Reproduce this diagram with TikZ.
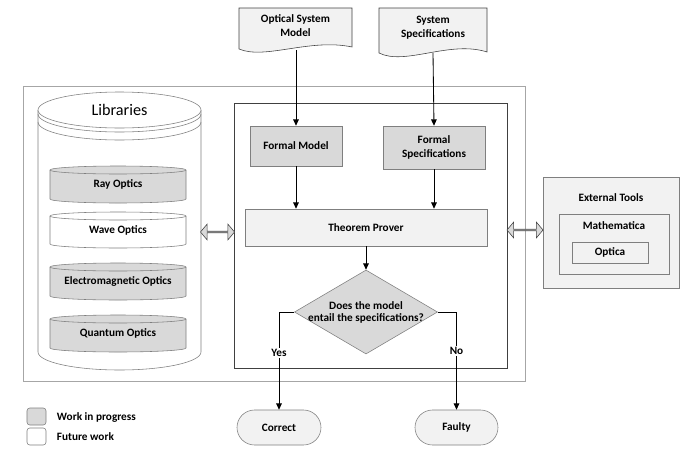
\documentclass[tikz,border=0pt]{standalone}
\usepackage{fontspec}
\setmainfont{Carlito}
\usetikzlibrary{shapes.geometric,shapes.misc,shapes.arrows,arrows.meta}

\definecolor{wipgray}{HTML}{D9D9D9}
\definecolor{lightfill}{HTML}{F2F2F2}
\definecolor{edgegray}{HTML}{7F7F7F}
\definecolor{framegray}{HTML}{A6A6A6}
\definecolor{darkedge}{HTML}{404040}

\begin{document}
\begin{tikzpicture}[x=0.025cm,y=0.025cm,
  font=\fontsize{8}{10}\selectfont\bfseries,
  box/.style={draw=edgegray,fill=wipgray,align=center,inner sep=0pt},
  pale/.style={draw=edgegray,fill=lightfill,align=center,inner sep=0pt},
  arr/.style={semithick,-{Triangle[length=4.5pt,width=4pt]}},
  dbl/.style={double arrow,draw=darkedge,fill=wipgray,inner sep=0pt,
    minimum width=0.4cm,double arrow head extend=0.07cm,double arrow tip angle=100}]
\useasboundingbox (0,0) rectangle (692,-455);

% frames
\draw[framegray] (23,-86) rectangle (525,-381);
\draw[darkedge,semithick] (234,-103) rectangle (507,-368);

% input documents
\filldraw[draw=darkedge,fill=lightfill] (239,-8) -- (352,-8) -- (352,-47)
  .. controls (310,-38) and (265,-60) .. (239,-49) -- cycle;
\node[align=center] (osm) at (295.5,-26) {Optical System\\Model};
\coordinate (osm-end) at (296,-50);
\filldraw[draw=darkedge,fill=lightfill] (379,-8) -- (487,-8) -- (487,-52)
  .. controls (450,-40) and (405,-66) .. (379,-53) -- cycle;
\node[align=center] (spec) at (433,-28) {System\\Specifications};
\coordinate (spec-end) at (433,-53);

% core
\node[box,minimum width=2.3cm,minimum height=1.0cm] (fm) at (296,-146) {Formal Model};
\node[box,minimum width=2.55cm,minimum height=1.075cm] (fs) at (434,-147.5) {Formal\\Specifications};
\node[pale,minimum width=6.05cm,minimum height=0.925cm] (tp) at (366,-227.5) {Theorem Prover};
\node[diamond,draw=edgegray,fill=wipgray,inner sep=-2pt,aspect=1.7,align=center,
  minimum width=3.575cm,minimum height=2.1cm,font=\fontsize{8}{8.5}\selectfont\bfseries]
  (dia) at (366,-312) {Does the model\\entail the specifications?};
\node[rounded rectangle,pale,minimum width=2.1cm,minimum height=0.875cm] (cor) at (279,-427.5) {Correct};
\node[rounded rectangle,pale,minimum width=2.075cm,minimum height=0.875cm] (fau) at (456.5,-427.5) {Faulty};

\draw[arr] (osm-end) -- (fm.north);
\draw[arr] (spec-end) -- (fs.north);
\draw[arr] (fm.south) -- (fm.south |- tp.north);
\draw[arr] (fs.south) -- (fs.south |- tp.north);
\draw[arr] (tp.south) -- (dia.north);
\draw[arr] (dia.west) -| node[pos=0.71,fill=white,inner sep=1pt] {Yes} (cor.north);
\draw[arr] (dia.east) -| node[pos=0.70,fill=white,inner sep=1pt] {No} (fau.north);

% libraries
\draw[draw=edgegray,fill=white] (38,-110) -- (38,-352) arc (180:360:81.5 and 18) -- (201,-110);
\draw[edgegray,fill=white] (119.5,-110) ellipse (81.5 and 18);
\draw[edgegray] (38,-114) arc (180:360:81.5 and 18);
\draw[edgegray] (38,-122) arc (180:360:81.5 and 18);
\node[font=\fontsize{11.5}{12}\selectfont] (libs) at (119.5,-110) {Libraries};
\foreach \name/\txt/\col/\yt/\yb in {ray/Ray Optics/wipgray/170/199,
    wave/Wave Optics/white/216/244,
    em/Electromagnetic Optics/wipgray/267/296,
    qo/Quantum Optics/wipgray/319/348}{
  \filldraw[draw=edgegray,fill=\col] (50,-\yt) arc (180:0:68 and 4) -- (186,-\yb)
    arc (0:-180:68 and 4) -- cycle;
  \draw[edgegray] (50,-\yt) arc (180:360:68 and 4);
  \node (\name) at (118,{-(\yt+\yb)/2}) {\txt};
}

% external tools
\node[pale,fill=lightfill,minimum width=3.4cm,minimum height=2.775cm] (ext) at (611,-232.5) {};
\node (ext-t) at (611,-198) {External Tools};
\node[draw=edgegray,minimum width=2.75cm,minimum height=1.5cm] (mma) at (614,-244) {};
\node (mma-t) at (614,-226) {Mathematica};
\node[draw=edgegray,minimum width=1.9cm,minimum height=0.525cm] (opt) at (610,-252.5) {Optica};

% links
\node[dbl,minimum height=0.85cm] (la) at (217.5,-232) {};
\node[dbl,minimum height=0.9cm] (ra) at (525,-230) {};

% legend
\node[draw=edgegray,fill=wipgray,rounded corners=2pt,minimum width=0.475cm,minimum height=0.425cm] (wip) at (36.5,-416.5) {};
\node[anchor=west] (wip-t) at (52,-417) {Work in progress};
\node[draw=edgegray,fill=white,rounded corners=2pt,minimum width=0.475cm,minimum height=0.425cm] (fut) at (36.5,-436.5) {};
\node[anchor=west] (fut-t) at (52,-437) {Future work};
\end{tikzpicture}
\end{document}
